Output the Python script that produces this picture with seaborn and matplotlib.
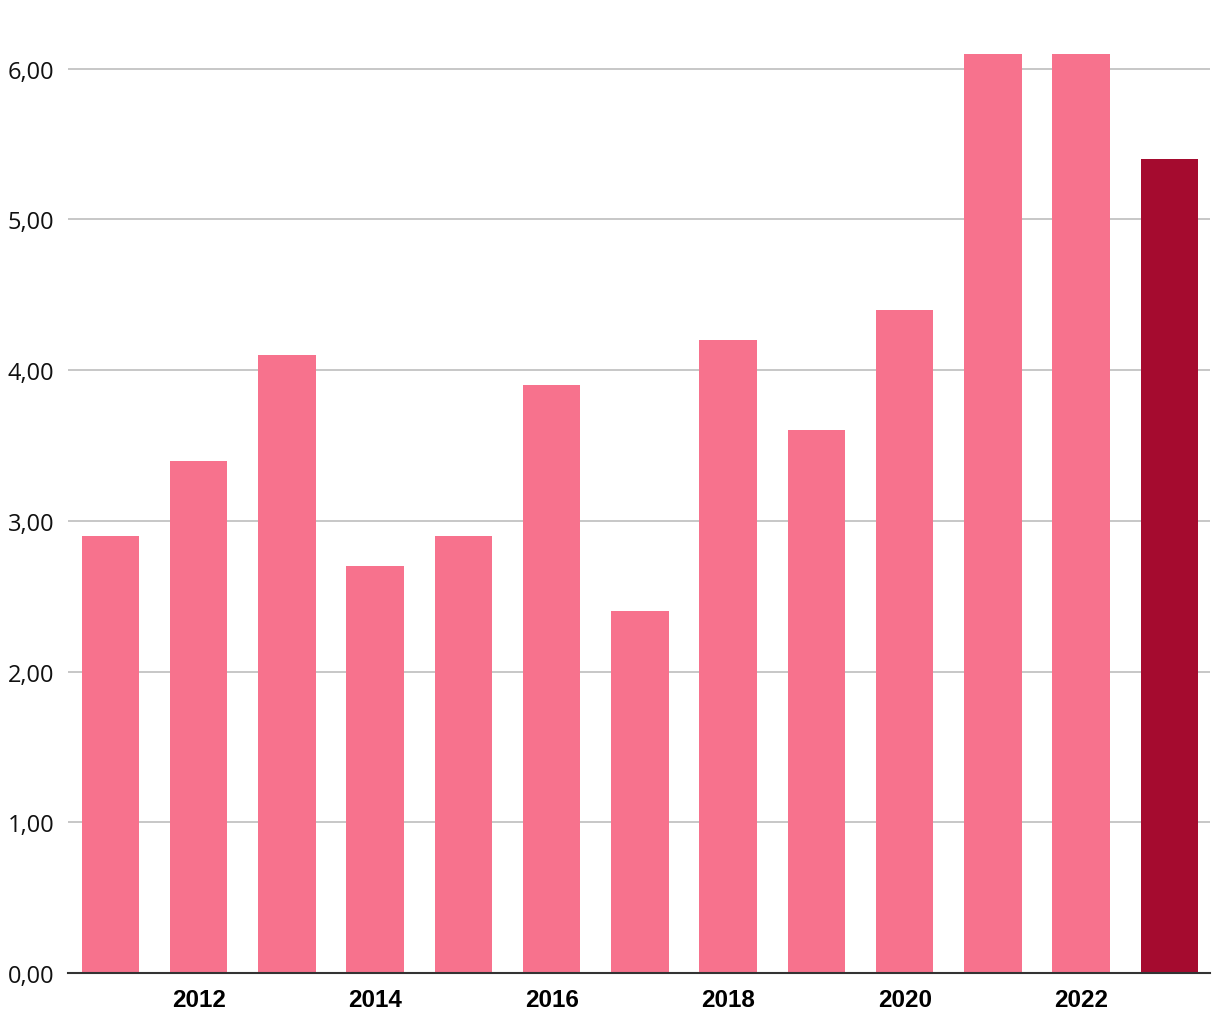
import matplotlib
matplotlib.use("Agg")
import matplotlib.pyplot as plt
import seaborn as sns
import pandas as pd
from matplotlib.ticker import FuncFormatter

# Daten
jahre = [2011, 2012, 2013, 2014, 2015, 2016, 2017, 2018, 2019, 2020, 2021, 2022, 2023]
werte = [2.9, 3.4, 4.1, 2.7, 2.9, 3.9, 2.4, 4.2, 3.6, 4.4, 6.1, 6.1, 5.4]
farben = ["#F7728D"] * 12 + ["#A50B2F"]

df = pd.DataFrame({"Jahr": [str(j) for j in jahre], "Wert": werte})

sns.set_style("white")
plt.rcParams["font.family"] = ["Open Sans", "DejaVu Sans"]

fig = plt.figure(figsize=(12.2, 10.2), dpi=100)
ax = fig.add_axes([0.0557, 0.0451, 0.9361, 0.931])

sns.barplot(x="Jahr", y="Wert", data=df, hue="Jahr", palette=farben,
            legend=False, width=0.65, saturation=1, linewidth=0, ax=ax)

ax.set_xlim(-0.48, 12.46)
ax.set_ylim(0, 6.3)
ax.set_yticks([0, 1, 2, 3, 4, 5, 6])
ax.yaxis.set_major_formatter(FuncFormatter(lambda v, p: f"{v:.2f}".replace(".", ",")))
ax.grid(axis="y", color="#BEBEBE", linewidth=1.2)
ax.set_axisbelow(True)

# nur gerade Jahre beschriften
ax.set_xticks(range(len(jahre)))
ax.set_xticklabels([str(j) if j % 2 == 0 else "" for j in jahre],
                   fontfamily="Liberation Sans", fontweight="bold", fontsize=17.5)
ax.tick_params(axis="y", length=0, pad=10, labelsize=17, labelcolor="#111111")
ax.tick_params(axis="x", length=0, pad=11, labelcolor="#000000")

for s in ["top", "right", "left"]:
    ax.spines[s].set_visible(False)
ax.spines["bottom"].set_color("#333333")
ax.spines["bottom"].set_linewidth(1.5)

ax.set_xlabel("")
ax.set_ylabel("")

fig.savefig("out.png", dpi=100)
